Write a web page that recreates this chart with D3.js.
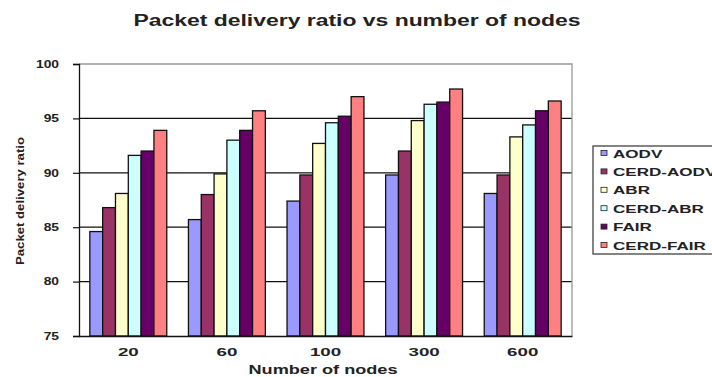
<!DOCTYPE html>
<html>
<head>
<meta charset="utf-8">
<script src="https://cdn.jsdelivr.net/npm/d3@7"></script>
<style>
  html, body { margin: 0; padding: 0; background: #fff; }
  svg { display: block; font-family: Arial, "Liberation Sans", sans-serif; }
</style>
</head>
<body>
<svg id="chart" width="712" height="377"></svg>
<script>
// Packet delivery ratio per protocol, by number of nodes
const categories = ["20", "60", "100", "300", "600"];
const seriesNames = ["AODV", "CERD-AODV", "ABR", "CERD-ABR", "FAIR", "CERD-FAIR"];
const aodv     = [84.6, 85.7, 87.4, 89.8, 88.1];
const cerdAodv = [86.8, 88.0, 89.8, 92.0, 89.8];
const abr      = [88.1, 89.9, 92.7, 94.8, 93.3];
const cerdAbr  = [91.6, 93.0, 94.6, 96.3, 94.4];
const fair     = [92.0, 93.9, 95.2, 96.5, 95.7];
const cerdFair = [93.9, 95.7, 97.0, 97.7, 96.6];
const yTicks = [75, 80, 85, 90, 95, 100];
const colors = ["#9999FF", "#993366", "#FFFFCC", "#CCFFFF", "#660066", "#FF8080"];

const seriesValues = [aodv, cerdAodv, abr, cerdAbr, fair, cerdFair];
const rows = [];
categories.forEach((c, ci) => {
  seriesNames.forEach((s, si) => rows.push({ cat: c, series: s, value: seriesValues[si][ci], color: colors[si] }));
});

const svg = d3.select("#chart");
const plot = { left: 79, right: 572, top: 64, bottom: 336 };

const x = d3.scaleBand().domain(categories).range([plot.left, plot.right])
  .paddingInner(0.22).paddingOuter(0.11);
const xs = d3.scaleBand().domain(seriesNames).range([0, x.bandwidth()]);
const y = d3.scaleLinear().domain([75, 100]).range([plot.bottom, plot.top]);

// Horizontally widen text to a factor of its natural width
function widen(sel, k) {
  sel.each(function () {
    const w = this.getComputedTextLength();
    d3.select(this).attr("textLength", w * k).attr("lengthAdjust", "spacingAndGlyphs");
  });
}

// Gridlines
svg.append("g").selectAll("line").data(yTicks.filter(t => t > 75 && t < 100)).join("line")
  .attr("x1", plot.left).attr("x2", plot.right)
  .attr("y1", d => y(d)).attr("y2", d => y(d))
  .attr("stroke", "#111").attr("stroke-width", 1.3);

// Plot frame (top and right edges)
svg.append("path")
  .attr("d", `M${plot.left},${y(100)}H${plot.right}V${plot.bottom}`)
  .attr("fill", "none").attr("stroke", "#999").attr("stroke-width", 1.3);

// Bars
svg.append("g").selectAll("rect").data(rows).join("rect")
  .attr("x", d => x(d.cat) + xs(d.series))
  .attr("y", d => y(d.value))
  .attr("width", xs.bandwidth())
  .attr("height", d => y(75) - y(d.value))
  .attr("fill", d => d.color)
  .attr("stroke", "#111").attr("stroke-width", 1.3);

// Y axis
const yAxis = svg.append("g").attr("transform", `translate(${plot.left},0)`)
  .call(d3.axisLeft(y).tickValues(yTicks).tickSize(6).tickPadding(14));
yAxis.select(".domain").attr("stroke", "#111").attr("stroke-width", 1.3);
yAxis.selectAll(".tick line").attr("stroke", "#111").attr("stroke-width", 1.2);
yAxis.selectAll(".tick text")
  .attr("font-size", 10).attr("font-weight", "bold").attr("fill", "#222")
  .attr("font-family", "Arial, 'Liberation Sans', sans-serif")
  .call(widen, 1.38);

// X axis
const xAxis = svg.append("g").attr("transform", `translate(0,${plot.bottom})`)
  .call(d3.axisBottom(x).tickSize(0).tickPadding(12));
xAxis.select(".domain").attr("stroke", "#111").attr("stroke-width", 1.3);
xAxis.selectAll(".tick text")
  .attr("font-size", 11).attr("font-weight", "bold").attr("fill", "#222")
  .attr("font-family", "Arial, 'Liberation Sans', sans-serif")
  .call(widen, 1.7);

// Title
svg.append("text").attr("x", 357).attr("y", 26).attr("text-anchor", "middle")
  .attr("font-size", 16).attr("font-weight", "bold").attr("fill", "#222")
  .text("Packet delivery ratio vs number of nodes")
  .attr("textLength", 447).attr("lengthAdjust", "spacingAndGlyphs");

// Axis titles
svg.append("text").attr("x", 323).attr("y", 374).attr("text-anchor", "middle")
  .attr("font-size", 12.5).attr("font-weight", "bold").attr("fill", "#222")
  .text("Number of nodes")
  .call(widen, 1.45);

svg.append("text").attr("transform", "translate(24,201) rotate(-90)").attr("text-anchor", "middle")
  .attr("font-size", 10).attr("font-weight", "bold").attr("fill", "#222")
  .text("Packet delivery ratio")
  .attr("textLength", 128).attr("lengthAdjust", "spacingAndGlyphs");

// Legend
const legend = svg.append("g");
legend.append("rect").attr("x", 593).attr("y", 146).attr("width", 130).attr("height", 108)
  .attr("fill", "#fff").attr("stroke", "#333").attr("stroke-width", 1.2);
const item = legend.selectAll("g.item").data(seriesNames).join("g")
  .attr("class", "item")
  .attr("transform", (d, i) => `translate(601,${153 + i * 18.4})`);
item.append("rect").attr("x", 0).attr("y", -2.5).attr("width", 6).attr("height", 5)
  .attr("fill", (d, i) => colors[i]).attr("stroke", "#222").attr("stroke-width", 0.8);
item.append("text").attr("x", 12).attr("y", 4.5)
  .attr("font-size", 11).attr("font-weight", "bold").attr("fill", "#222")
  .text(d => d)
  .call(widen, 1.55);
</script>
</body>
</html>
